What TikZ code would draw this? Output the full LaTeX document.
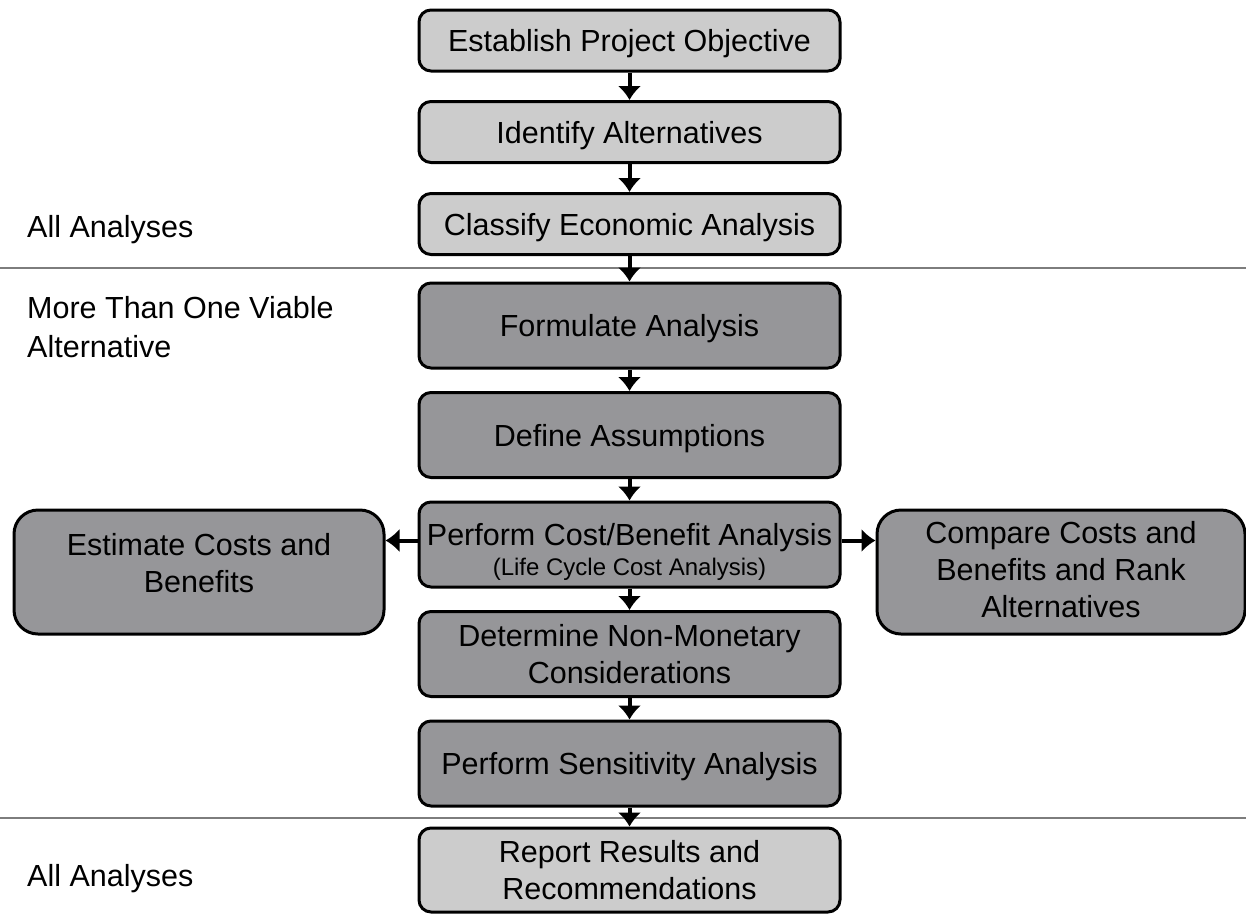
\documentclass[tikz,border=0pt]{standalone}
\usepackage{fontspec}
\setmainfont{Liberation Sans}
\usetikzlibrary{arrows.meta}
\definecolor{lightbox}{RGB}{204,204,204}
\definecolor{darkbox}{RGB}{150,150,153}
\definecolor{sepline}{RGB}{125,125,125}
\begin{document}
\begin{tikzpicture}[x=1pt,y=-1pt,
  box/.style={draw=black, line width=3pt, rounded corners=12pt, minimum width=421pt,
    align=center, inner sep=0pt, text depth=0pt, font=\fontsize{30.5}{37}\selectfont},
  lightstep/.style={box, fill=lightbox, minimum height=61pt},
  darkstep/.style={box, fill=darkbox, minimum height=85pt},
  sidebox/.style={box, fill=darkbox, rounded corners=24pt, minimum height=124pt},
  boxtext/.style={align=center, inner sep=0pt, font=\fontsize{30.5}{37}\selectfont},
  flow/.style={line width=4pt, -{Latex[length=14pt,width=24pt]}},
  phase/.style={anchor=west, align=left, inner sep=0pt, text depth=0pt,
    font=\fontsize{30.5}{39}\selectfont},
  divider/.style={draw=sepline, line width=2pt}]
\useasboundingbox (0,0) rectangle (1246,913);

% phase dividers
\coordinate (d1l) at (0,268);   \coordinate (d1r) at (1246,268);
\coordinate (d2l) at (0,818);   \coordinate (d2r) at (1246,818);
\draw[divider] (d1l) -- (d1r);
\draw[divider] (d2l) -- (d2r);

% phase labels
\node[phase] (p1) at (27,226) {All Analyses};
\node[phase] (p2) at (27,327) {More Than One Viable\\Alternative};
\node[phase] (p3) at (27,875) {All Analyses};

% main column
\node[lightstep] (a) at (629.5,40.5) {Establish Project Objective};
\node[lightstep] (b) at (629.5,132) {Identify Alternatives};
\node[lightstep] (c) at (629.5,224) {Classify Economic Analysis};
\node[darkstep] (d) at (629.5,325.5) {Formulate Analysis};
\node[darkstep] (e) at (629.5,435) {Define Assumptions};
\node[darkstep] (f) at (629.5,544.5) {};
\node[boxtext] (ft) at (629.5,552) {Perform Cost/Benefit Analysis\\[-7pt]{\fontsize{24}{28}\selectfont(Life Cycle Cost Analysis)}};
\node[darkstep] (g) at (629.5,654) {Determine Non-Monetary\\Considerations};
\node[darkstep] (h) at (629.5,763.5) {Perform Sensitivity Analysis};
\node[lightstep, minimum height=84pt] (i) at (629.5,870) {Report Results and\\Recommendations};

% side boxes
\node[sidebox, minimum width=370pt, text depth=18pt] (est) at (199,572) {Estimate Costs and\\Benefits};
\node[sidebox, minimum width=368pt, text depth=6pt] (cmp) at (1061,572) {Compare Costs and\\Benefits and Rank\\Alternatives};

% connectors
\draw[flow] (a) -- (b);
\draw[flow] (b) -- (c);
\draw[flow] (c) -- (d);
\draw[flow] (d) -- (e);
\draw[flow] (e) -- (f);
\draw[flow] (f) -- (g);
\draw[flow] (g) -- (h);
\draw[flow] (h) -- (i);
\draw[flow] ([yshift=4pt]f.west) -- ([yshift=4pt]f.west -| est.east);
\draw[flow] ([yshift=4pt]f.east) -- ([yshift=4pt]f.east -| cmp.west);
\end{tikzpicture}
\end{document}
